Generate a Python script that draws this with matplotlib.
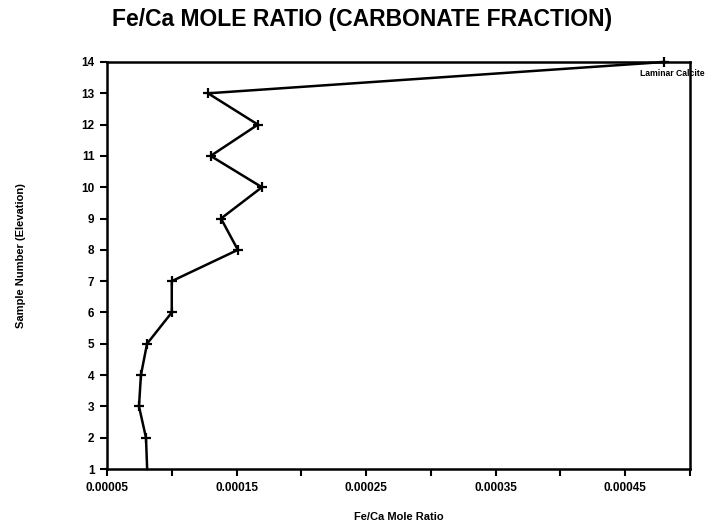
import matplotlib
matplotlib.use("Agg")
import matplotlib.pyplot as plt
from matplotlib.ticker import FixedLocator, FixedFormatter

# Data
sample_number = [1, 2, 3, 4, 5, 6, 7, 8, 9, 10, 11, 12, 13, 14]
fe_ca_ratio = [0.000081, 0.0000801, 0.0000747, 0.0000762, 0.0000809, 0.0001, 0.0001,
               0.000151, 0.000138, 0.0001696, 0.00013, 0.0001665, 0.000128, 0.00048]
marker_samples = [2, 3, 4, 5, 6, 7, 8, 9, 10, 11, 12, 13, 14]
x_major_ticks = [0.00005, 0.0001, 0.00015, 0.0002, 0.00025, 0.0003, 0.00035, 0.0004, 0.00045, 0.0005]
x_tick_labels = ["0.00005", "", "0.00015", "", "0.00025", "", "0.00035", "", "0.00045", ""]
y_ticks = list(range(1, 15))
annotation_text = "Laminar Calcite"

fam = ["Liberation Sans", "DejaVu Sans"]
plt.rcParams['font.family'] = fam

fig = plt.figure(figsize=(7.09, 5.21), dpi=100)
ax = fig.add_axes([0.1509, 0.0998, 0.9732 - 0.1509, 0.881 - 0.0998])

ax.plot(fe_ca_ratio, sample_number, color="black", lw=1.8, zorder=3, clip_on=False)
mx = [fe_ca_ratio[sample_number.index(s)] for s in marker_samples]
ax.plot(mx, marker_samples, linestyle="none", marker="+", ms=7, mew=1.6,
        color="black", zorder=4, clip_on=False)

ax.set_xlim(0.00005, 0.0005)
ax.set_ylim(1, 14)
ax.xaxis.set_major_locator(FixedLocator(x_major_ticks))
ax.xaxis.set_major_formatter(FixedFormatter(x_tick_labels))
ax.set_yticks(y_ticks)
ax.set_yticklabels([str(v) for v in y_ticks])

for s in ax.spines.values():
    s.set_linewidth(1.8)
ax.tick_params(axis="both", direction="out", length=5, width=1.5, labelsize=8.5, pad=4)
for lab in ax.get_xticklabels() + ax.get_yticklabels():
    lab.set_fontweight("bold")

ax.set_xlabel("Fe/Ca Mole Ratio", fontsize=8, fontweight="bold", labelpad=13)
fig.text(0.03, 0.51, "Sample Number (Elevation)", rotation=90, ha="center", va="center",
         fontsize=8, fontweight="bold")

ax.annotate(annotation_text, xy=(fe_ca_ratio[-1], sample_number[-1]), xytext=(29, -8),
            textcoords="offset points", ha="right", va="center", fontsize=6.2,
            fontweight="bold", annotation_clip=False)

fig.text(0.51, 0.962, "Fe/Ca MOLE RATIO (CARBONATE FRACTION)", ha="center", va="center",
         fontsize=16.5, fontweight="bold")

fig.savefig("out.png", dpi=100)
